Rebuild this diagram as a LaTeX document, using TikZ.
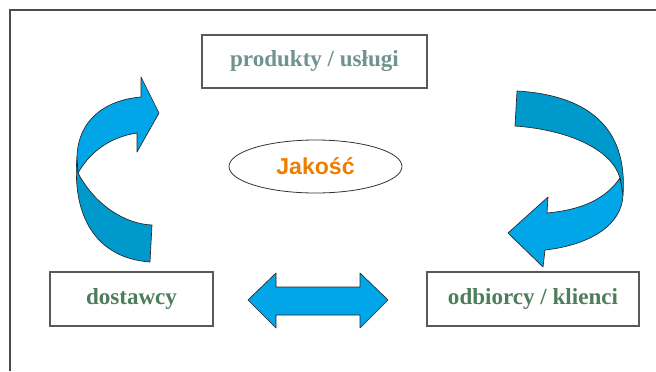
\documentclass[tikz,border=0pt]{standalone}
\usepackage{fontspec}
\setmainfont{Liberation Serif}
\newfontfamily\jakfont{Liberation Sans}
\usepackage{xcolor}
\usepackage{tikz}
\usetikzlibrary{shapes.geometric}
\definecolor{arrowlight}{RGB}{0,166,232}
\definecolor{arrowdark}{RGB}{0,153,204}
\definecolor{textgrey}{RGB}{111,148,144}
\definecolor{textgreen}{RGB}{78,125,91}
\definecolor{jakorange}{RGB}{240,125,0}

\begin{document}
\begin{tikzpicture}%
        [x={(0.75pt,0pt)},
        y={(0pt,-0.75pt)},
        frame/.style={color=black!70, line width=1pt},
        box/.style={draw=black!65, line width=0.8pt, inner sep=0pt,
                    font=\bfseries\fontsize{17.3}{20}\selectfont},
        quality/.style={ellipse, draw=black!80, line width=0.6pt, inner sep=0pt,
                    minimum width=129.75pt, minimum height=39.75pt,
                    font=\jakfont\bfseries\fontsize{17.3}{20}\selectfont, text=jakorange},
        bandlight/.style={fill=arrowlight, draw=black!85, line width=0.5pt, line join=round},
        banddark/.style={fill=arrowdark, draw=black!85, line width=0.5pt, line join=round}]
    \useasboundingbox (0,0) rectangle (656,371);
    %% Frame
    \draw[frame] (10,371) -- (10,10) -- (656,10);
    %%
    %% Boxes and the ellipse
    %%
    \node[box, text=textgrey, minimum width=168.75pt, minimum height=39.75pt]
        (produkty) at (314.5,61.5) {produkty / usługi};
    \node[box, text=textgreen, minimum width=122.25pt, minimum height=40.5pt]
        (dostawcy) at (131.5,299) {dostawcy};
    \node[box, text=textgreen, minimum width=159pt, minimum height=40.5pt]
        (odbiorcy) at (533,299) {odbiorcy / klienci};
    \node[quality] (jakosc) at (315.5,166.5) {Jakość};
    %%
    %% Curved arrow on the left
    %%
    \draw[banddark] (77,157) .. controls (72,215) and (95,258) .. (150,262)
        -- (152,225) .. controls (125,224) and (95,205) .. (78,173) -- cycle;
    \draw[bandlight] (78,173) -- (77,157) .. controls (78,120) and (105,100) .. (141,97)
        -- (141,77) -- (159,113) -- (137,152) -- (137,133)
        .. controls (110,137) and (90,152) .. (78,173) -- cycle;
    %%
    %% Curved arrow on the right
    %%
    \draw[banddark] (517,91) .. controls (585,95) and (628,125) .. (623,195)
        -- (620,178) .. controls (612,150) and (570,130) .. (515,126) -- cycle;
    \draw[bandlight] (620,178) .. controls (605,200) and (580,210) .. (547,213)
        -- (548,197) -- (508,233) -- (543,267) -- (545,250)
        .. controls (590,245) and (622,225) .. (623,195) -- cycle;
    %%
    %% Double arrow between the boxes
    %%
    \draw[bandlight] (248,300) -- (276,273) -- (276,287) -- (360,287) -- (360,273)
        -- (388,300) -- (360,328) -- (360,315) -- (276,315) -- (276,328) -- cycle;
\end{tikzpicture}
\end{document}
